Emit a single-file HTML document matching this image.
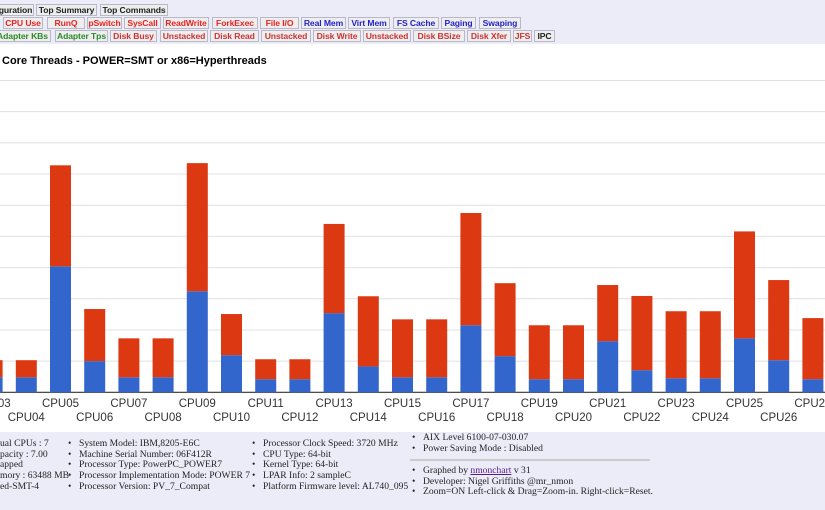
<!DOCTYPE html>
<html><head><meta charset="utf-8">
<style>
body{margin:0;width:825px;height:510px;overflow:hidden;background:#ececf8;font-family:"Liberation Sans",sans-serif;position:relative}
.b{position:absolute;height:12px;line-height:11px;font-size:8.6px;font-weight:bold;background:#eee;border:1px solid #b8b8c8;text-align:center;box-sizing:border-box;white-space:nowrap;overflow:hidden;letter-spacing:-0.1px}
.r{color:#e22}.bl{color:#22c}.g{color:#2a8a2a}.d{color:#c33}.k{color:#222}
#chart{position:absolute;left:0;top:44px;width:825px;height:388px;background:#fff}
.info{position:absolute;font-family:"Liberation Serif",serif;font-size:9.6px;color:#222;line-height:10.7px;white-space:nowrap}
.info div{position:relative}
.bul::before{content:"•";position:absolute;left:-11px}
</style></head><body>
<div>
<div class="b k" style="left:-3px;top:4px;width:37px">guration</div>
<div class="b k" style="left:36px;top:4px;width:61px">Top Summary</div>
<div class="b k" style="left:100px;top:4px;width:68px">Top Commands</div>
<div class="b r" style="left:3px;top:17px;width:40px">CPU Use</div>
<div class="b r" style="left:47px;top:17px;width:38px">RunQ</div>
<div class="b r" style="left:87px;top:17px;width:35px">pSwitch</div>
<div class="b r" style="left:124px;top:17px;width:37px">SysCall</div>
<div class="b r" style="left:163px;top:17px;width:46px">ReadWrite</div>
<div class="b r" style="left:212px;top:17px;width:46px">ForkExec</div>
<div class="b r" style="left:260px;top:17px;width:39px">File I/O</div>
<div class="b bl" style="left:301px;top:17px;width:45px">Real Mem</div>
<div class="b bl" style="left:348px;top:17px;width:42px">Virt Mem</div>
<div class="b bl" style="left:393px;top:17px;width:46px">FS Cache</div>
<div class="b bl" style="left:441px;top:17px;width:35px">Paging</div>
<div class="b bl" style="left:479px;top:17px;width:42px">Swaping</div>
<div class="b g" style="left:-6px;top:30px;width:57px">Adapter KBs</div>
<div class="b g" style="left:55px;top:30px;width:53px">Adapter Tps</div>
<div class="b d" style="left:110px;top:30px;width:47px">Disk Busy</div>
<div class="b d" style="left:160px;top:30px;width:48px">Unstacked</div>
<div class="b d" style="left:210px;top:30px;width:49px">Disk Read</div>
<div class="b d" style="left:261px;top:30px;width:50px">Unstacked</div>
<div class="b d" style="left:313px;top:30px;width:48px">Disk Write</div>
<div class="b d" style="left:363px;top:30px;width:48px">Unstacked</div>
<div class="b d" style="left:413px;top:30px;width:52px">Disk BSize</div>
<div class="b d" style="left:467px;top:30px;width:44px">Disk Xfer</div>
<div class="b d" style="left:513px;top:30px;width:19px">JFS</div>
<div class="b k" style="left:534px;top:30px;width:21px">IPC</div>
</div>
<div id="chart">
<svg id="svg" width="825" height="388" xmlns="http://www.w3.org/2000/svg">
<text x="2" y="20" font-family="Liberation Sans, sans-serif" font-size="11" font-weight="bold" fill="#000">Core Threads - POWER=SMT or x86=Hyperthreads</text>
<g id="grid"></g><g id="bars"></g><g id="labels"></g>
</svg>
</div>
<div class="info" style="left:0;top:439px">
<div>ual CPUs : 7</div><div>pacity : 7.00</div><div>apped</div><div>mory : 63488 MB</div><div>ed-SMT-4</div></div>
<div class="info" style="left:79px;top:439px">
<div class="bul">System Model: IBM,8205-E6C</div><div class="bul">Machine Serial Number: 06F412R</div><div class="bul">Processor Type: PowerPC_POWER7</div><div class="bul">Processor Implementation Mode: POWER 7</div><div class="bul">Processor Version: PV_7_Compat</div></div>
<div class="info" style="left:263px;top:439px">
<div class="bul">Processor Clock Speed: 3720 MHz</div><div class="bul">CPU Type: 64-bit</div><div class="bul">Kernel Type: 64-bit</div><div class="bul">LPAR Info: 2 sampleC</div><div class="bul">Platform Firmware level: AL740_095</div></div>
<div class="info" style="left:423px;top:433px">
<div class="bul">AIX Level 6100-07-030.07</div><div class="bul">Power Saving Mode : Disabled</div></div>
<div style="position:absolute;left:410px;top:459px;width:240px;height:2px;background:#ccc"></div>
<div class="info" style="left:423px;top:466px">
<div class="bul">Graphed by <span style="color:#551a8b;text-decoration:underline">nmonchart</span> v 31</div><div class="bul">Developer: Nigel Griffiths @mr_nmon</div><div class="bul">Zoom=ON Left-click &amp; Drag=Zoom-in. Right-click=Reset.</div></div>
<script>
const categories=["CPU03","CPU04","CPU05","CPU06","CPU07","CPU08","CPU09","CPU10","CPU11","CPU12","CPU13","CPU14","CPU15","CPU16","CPU17","CPU18","CPU19","CPU20","CPU21","CPU22","CPU23","CPU24","CPU25","CPU26","CPU27"];
const blueValues=[4.8,4.8,40.4,10,4.8,4.8,32.4,11.9,4.2,4.2,25.4,8.3,4.8,4.8,21.5,11.6,4.2,4.2,16.4,7.1,4.5,4.5,17.3,10.3,4.2];
const redValues=[5.5,5.5,32.4,16.7,12.5,12.5,41.1,13.2,6.4,6.4,28.6,22.5,18.6,18.6,36,23.4,17.3,17.3,18,23.8,21.5,21.5,34.3,25.7,19.6];
const gridTicks=[0,10,20,30,40,50,60,70,80,90,100];
const NS="http://www.w3.org/2000/svg";
const baseY=348.3, pxPer=3.118;
function y(v){return baseY-v*pxPer;}
function xL(i){return -18.4+i*34.2;}
const bw=21;
const grid=document.getElementById('grid'),bars=document.getElementById('bars'),labels=document.getElementById('labels');
gridTicks.forEach(t=>{
 const l=document.createElementNS(NS,'line');
 l.setAttribute('x1',0);l.setAttribute('x2',825);l.setAttribute('y1',y(t));l.setAttribute('y2',y(t));
 l.setAttribute('stroke',t===0?'#333':'#e0e0e0');l.setAttribute('stroke-width',t===0?1.2:1);
 
 
 grid.appendChild(l);
});
categories.forEach((c,i)=>{
 const b=blueValues[i],r=redValues[i];
 const rb=document.createElementNS(NS,'rect');
 rb.setAttribute('x',xL(i));rb.setAttribute('width',bw);rb.setAttribute('y',y(b));rb.setAttribute('height',y(0)-y(b));rb.setAttribute('fill','#3366cc');
 
 
 bars.appendChild(rb);
 const rr=document.createElementNS(NS,'rect');
 rr.setAttribute('x',xL(i));rr.setAttribute('width',bw);rr.setAttribute('y',y(b+r));rr.setAttribute('height',y(b)-y(b+r));rr.setAttribute('fill','#dc3912');
 
 
 bars.appendChild(rr);
 const t=document.createElementNS(NS,'text');
 t.setAttribute('x',xL(i)+bw/2);t.setAttribute('y',i%2===0?363:377);t.setAttribute('text-anchor','middle');
 t.setAttribute('font-family','Liberation Sans, sans-serif');t.setAttribute('font-size','11.5');t.setAttribute('fill','#333');
 t.textContent=c;
 
 
 labels.appendChild(t);
});
</script>
</body></html>
